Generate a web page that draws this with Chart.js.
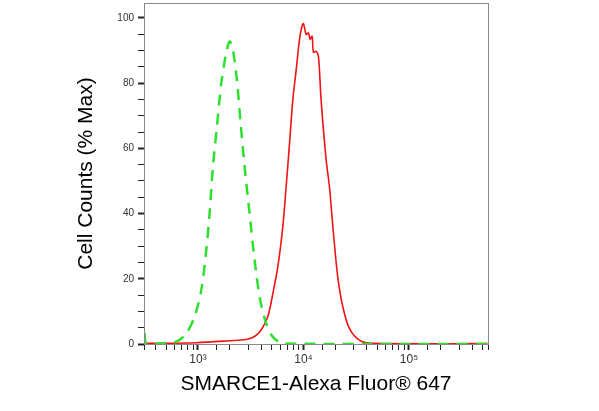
<!DOCTYPE html>
<html><head><meta charset="utf-8">
<script src="https://cdn.jsdelivr.net/npm/chart.js@4/dist/chart.umd.min.js"></script>
<style>html,body{margin:0;padding:0;background:#fff}#w{width:599px;height:411px}</style>
</head><body><div id="w"><canvas id="c"></canvas></div>
<script>
const isotypeX=[312,324,467,624,776,929,1076,1199,1289,1387,1513,1663,1854,1995,2143,2338,2535,2766,3084,3439,3890,4433,5129,6370,36500,561000];
const isotypeY=[3.3,0.3,0.2,0.7,3.3,8.4,16.6,28.9,40.1,54.5,66.7,80.0,89.3,92.8,90.3,81.0,67.8,54.5,40.1,25.8,13.5,6.3,2.2,0.2,0,0];
const sampleX=[324,964,1995,2864,3436,3972,4592,5129,5715,6370,6855,7379,7925,8531,9165,9643,10000,10590,11150,11560,12070,12440,13180,13870,14690,16400,17620,19230,21130,23560,27240,33880,45290,554600];
const sampleY=[0.2,0.4,1.0,1.4,2.3,4.3,8.4,15.5,23.7,36.0,48.3,61.6,74.9,84.1,93.3,97.3,98.3,95.0,95.4,93.5,94.4,89.5,89.8,88.2,74.9,56.5,48.3,34.0,20.6,11.5,4.8,1.2,0.2,0.1];
const xLabels={1000:'10³',10000:'10⁴',100000:'10⁵'};
const yLabels=[0,20,40,60,80,100];
const pts=(xs,ys)=>xs.map((x,i)=>({x:x,y:ys[i]}));
const boxPlugin={id:'box',afterDraw(ch){const a=ch.chartArea,g=ch.ctx;g.save();g.strokeStyle='#888';g.lineWidth=1;g.strokeRect(a.left+0.5,a.top+0.5,a.right-a.left,a.bottom-a.top);g.restore();}};
new Chart(document.getElementById('c'),{type:'line',
data:{datasets:[
{data:pts(isotypeX,isotypeY),borderColor:'#2ee02e',borderWidth:2.5,borderDash:[11,8],pointRadius:0,tension:0.3,fill:false},
{data:pts(sampleX,sampleY),borderColor:'#f01414',borderWidth:1.6,pointRadius:0,tension:0.3,fill:false}]},
options:{responsive:true,maintainAspectRatio:false,animation:false,
layout:{padding:{top:3,right:111,bottom:14,left:72}},
plugins:{legend:{display:false},tooltip:{enabled:false}},
scales:{
x:{type:'logarithmic',min:308,max:561000,
 afterFit(s){s.height=53;},
 grid:{drawOnChartArea:false,drawTicks:true,tickLength:6,color:'#222',tickWidth:c=>xLabels[c.tick&&c.tick.value]?2:1},
 border:{display:false},
 ticks:{autoSkip:false,maxRotation:0,color:'#333',font:{family:'Liberation Sans',size:12},padding:2,callback:v=>xLabels[v]||''},
 title:{display:true,text:'SMARCE1-Alexa Fluor® 647',color:'#000',font:{family:'Liberation Sans',size:21},padding:{top:0,bottom:0}}},
y:{min:0,max:104.6,
 afterFit(s){s.width=72;s.paddingTop=0;s.paddingBottom=0;},
 afterBuildTicks(s){s.ticks=s.ticks.filter(t=>t.value%5===0&&t.value<=100);},
 grid:{drawOnChartArea:false,tickLength:6,color:'#222',tickWidth:c=>(c.tick&&c.tick.value%20===0)?2:1},
 border:{display:false},
 ticks:{stepSize:5,autoSkip:false,color:'#333',font:{family:'Liberation Sans',size:10},padding:4,callback:v=>yLabels.includes(v)?String(v):''},
 title:{display:true,text:'Cell Counts (% Max)',color:'#000',font:{family:'Liberation Sans',size:21},padding:{top:2,bottom:12}}}
}},plugins:[boxPlugin]});
</script></body></html>
